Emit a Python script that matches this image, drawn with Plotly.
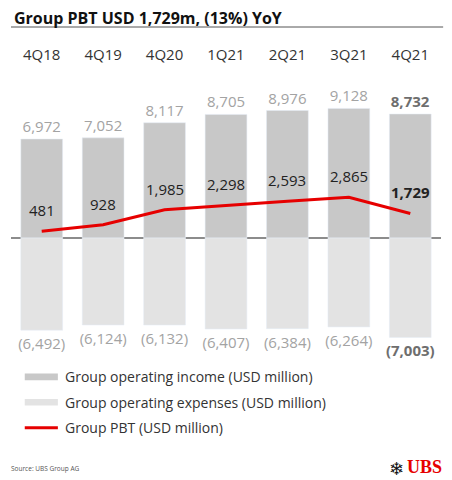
import plotly.graph_objects as go

# %%
quarters = ["4Q18", "4Q19", "4Q20", "1Q21", "2Q21", "3Q21", "4Q21"]
income = [6972, 7052, 8117, 8705, 8976, 9128, 8732]
expenses = [-6492, -6124, -6132, -6407, -6384, -6264, -7003]
pbt = [481, 928, 1985, 2298, 2593, 2865, 1729]

FONT = "Open Sans"
LABEL_GREY = "#a3a3a3"
DARK = "#333333"


def bold_last(labels):
    return labels[:-1] + ["<b>" + labels[-1] + "</b>"]


income_text = bold_last([f"{v:,}" for v in income])
expense_text = bold_last([f"({-v:,})" for v in expenses])
pbt_text = bold_last([f"{v:,}" for v in pbt])
last_colors = [LABEL_GREY] * (len(quarters) - 1) + ["#6e6e6e"]

# %%
fig = go.Figure()
fig.add_bar(
    x=quarters,
    y=income,
    name="Group operating income (USD million)",
    marker_color="#c8c8c8",
    text=income_text,
    textposition="outside",
    constraintext="none",
    textfont=dict(size=15, color=last_colors, family=FONT),
    cliponaxis=False,
)
fig.add_bar(
    x=quarters,
    y=expenses,
    name="Group operating expenses (USD million)",
    marker_color="#e3e3e3",
    text=expense_text,
    textposition="outside",
    constraintext="none",
    textfont=dict(size=15, color=last_colors, family=FONT),
    cliponaxis=False,
)
fig.add_scatter(
    x=quarters,
    y=pbt,
    name="Group PBT (USD million)",
    mode="lines",
    line=dict(color="#e60000", width=3),
)

for q, v, t in zip(quarters, pbt, pbt_text):
    fig.add_annotation(
        x=q, y=v, text=t, showarrow=False, yshift=21,
        font=dict(size=15, color="#222222", family=FONT),
    )

# title + rule
fig.add_annotation(
    x=0, y=1, xref="paper", yref="paper", xshift=1, yshift=50,
    text="<b>Group PBT USD 1,729m, (13%) YoY</b>", showarrow=False,
    xanchor="left", yanchor="middle", font=dict(size=16, color="#111111", family=FONT),
)
fig.add_shape(type="line", xref="paper", yref="paper", x0=0, x1=1.005,
              y0=1.138, y1=1.138, line=dict(color="#555555", width=1))

# legend drawn by hand (wide swatches)
legend_items = [
    ("Group operating income (USD million)", "#c8c8c8", "bar"),
    ("Group operating expenses (USD million)", "#e3e3e3", "bar"),
    ("Group PBT (USD million)", "#e60000", "line"),
]
for i, (label, color, kind) in enumerate(legend_items):
    yc = -0.04 - i * 0.0855
    if kind == "bar":
        fig.add_shape(type="rect", xref="paper", yref="paper", x0=0.032, x1=0.109,
                      y0=yc - 0.011, y1=yc + 0.011, fillcolor=color, line_width=0)
    else:
        fig.add_shape(type="line", xref="paper", yref="paper", x0=0.032, x1=0.109,
                      y0=yc, y1=yc, line=dict(color=color, width=3))
    fig.add_annotation(x=0.121, y=yc, xref="paper", yref="paper", text=label,
                       showarrow=False, xanchor="left", yanchor="middle",
                       font=dict(size=14, color=DARK, family=FONT))

fig.add_annotation(x=0, y=0, xref="paper", yref="paper", xshift=-2, yshift=-103,
                   text="Source: UBS Group AG", showarrow=False, xanchor="left",
                   yanchor="middle", font=dict(size=6.5, color="#555555", family=FONT))
fig.add_annotation(x=1, y=0, xref="paper", yref="paper", xshift=3, yshift=-102,
                   text="<b>UBS</b>", showarrow=False, xanchor="right",
                   yanchor="middle", font=dict(size=18, color="#e60000", family="Liberation Serif"))
fig.add_annotation(x=1, y=0, xref="paper", yref="paper", xshift=-35, yshift=-103,
                   text="\u2744\ufe0e", showarrow=False, xanchor="right",
                   yanchor="middle", font=dict(size=18, color="#111111", family="DejaVu Sans"))

# the page body adds an 8px offset, so margins are shifted up/left by 8px
fig.update_layout(
    width=452,
    height=480,
    margin=dict(l=3, r=19, t=60, b=123),
    barmode="relative",
    bargap=0.32,
    showlegend=False,
    plot_bgcolor="white",
    paper_bgcolor="white",
    font=dict(family=FONT, color=DARK),
)
fig.update_xaxes(side="top", showgrid=False, showline=False, ticks="",
                 tickfont=dict(size=15, color=DARK, family=FONT), ticklabelstandoff=4)
fig.update_yaxes(range=[-8944, 11972], showgrid=False, showticklabels=False,
                 zeroline=True, zerolinecolor="#8c8c8c", zerolinewidth=1.5)

fig.write_html("out.html")
